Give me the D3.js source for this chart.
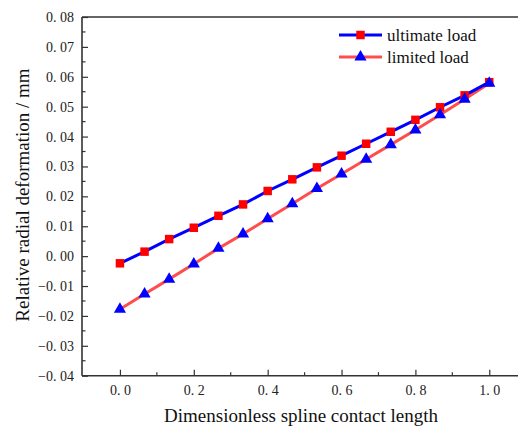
<!DOCTYPE html>
<html>
<head>
<meta charset="utf-8">
<script src="https://cdn.jsdelivr.net/npm/d3@7"></script>
<style>
  body { margin: 0; background: #fff; }
  svg { display: block; font-family: "Liberation Serif", "DejaVu Serif", serif; }
</style>
</head>
<body>
<svg id="chart" width="518" height="429"></svg>
<script>
// x positions of the points (dimensionless length)
var xs = [0, 0.0667, 0.1333, 0.2, 0.2667, 0.3333, 0.4, 0.4667, 0.5333, 0.6, 0.6667, 0.7333, 0.8, 0.8667, 0.9333, 1.0]

// series values
var ultimate = [-0.0024, 0.0015, 0.0057, 0.0095, 0.0135, 0.0173, 0.0218, 0.0257, 0.0297, 0.0336, 0.0376, 0.0416, 0.0456, 0.0498, 0.0538, 0.0582]
var limited = [-0.0178, -0.0127, -0.0077, -0.0026, 0.0026, 0.0074, 0.0125, 0.0175, 0.0226, 0.0275, 0.0324, 0.0373, 0.0422, 0.0473, 0.0525, 0.0578]

var xTicks = [0, 0.2, 0.4, 0.6, 0.8, 1.0]
var xMinor = [0.1, 0.3, 0.5, 0.7, 0.9]
var yTicks = [-0.04, -0.03, -0.02, -0.01, 0, 0.01, 0.02, 0.03, 0.04, 0.05, 0.06, 0.07, 0.08]
var yMinor = [-0.035, -0.025, -0.015, -0.005, 0.005, 0.015, 0.025, 0.035, 0.045, 0.055, 0.065, 0.075]

var seriesNames = ["ultimate load", "limited load"]

;(function() {
var svg = d3.select("#chart")
var W = 518
var mLeft = 82, mTop = 17, mBottom = 375.7

var x = d3.scaleLinear().domain([-0.1, 1.1]).range([83, 526.2])
var y = d3.scaleLinear().domain([-0.04, 0.08]).range([mBottom, mTop])

var axisColor = "#333"
var yFmt = d3.format(".2f"), xFmt = d3.format(".1f")
var spaced = function(s) { return s.replace(".", ". ") }

// y axis: major ticks inside, minor between
var yAxis = d3.axisLeft(y).tickValues(yTicks).tickSize(-6).tickPadding(8)
    .tickFormat(function(d) { return spaced(yFmt(d)) })
var gy = svg.append("g").attr("transform", "translate(" + mLeft + ",0)").call(yAxis)
gy.select(".domain").remove()
gy.selectAll(".tick line").attr("stroke", axisColor).attr("stroke-width", 1.2)
gy.selectAll(".tick text").attr("font-size", 14).attr("fill", "#222")
    .attr("font-family", "Liberation Serif, serif")

svg.append("g").selectAll("line").data(yMinor).enter().append("line")
    .attr("x1", mLeft).attr("x2", mLeft + 3.5)
    .attr("y1", function(d) { return y(d) }).attr("y2", function(d) { return y(d) })
    .attr("stroke", axisColor).attr("stroke-width", 1.2)

// x axis
var xAxis = d3.axisBottom(x).tickValues(xTicks).tickSize(-6).tickPadding(9)
    .tickFormat(function(d) { return spaced(xFmt(d)) })
var gx = svg.append("g").attr("transform", "translate(0," + mBottom + ")").call(xAxis)
gx.select(".domain").remove()
gx.selectAll(".tick line").attr("stroke", axisColor).attr("stroke-width", 1.2)
gx.selectAll(".tick text").attr("font-size", 14).attr("fill", "#222")
    .attr("font-family", "Liberation Serif, serif")

svg.append("g").selectAll("line").data(xMinor).enter().append("line")
    .attr("x1", function(d) { return x(d) }).attr("x2", function(d) { return x(d) })
    .attr("y1", mBottom).attr("y2", mBottom - 3.5)
    .attr("stroke", axisColor).attr("stroke-width", 1.2)

// frame lines: left, bottom, top
svg.append("line").attr("x1", mLeft).attr("x2", mLeft).attr("y1", mTop).attr("y2", mBottom)
    .attr("stroke", axisColor).attr("stroke-width", 1.6)
svg.append("line").attr("x1", mLeft).attr("x2", W).attr("y1", mBottom).attr("y2", mBottom)
    .attr("stroke", axisColor).attr("stroke-width", 1.6)
svg.append("line").attr("x1", mLeft).attr("x2", W).attr("y1", mTop).attr("y2", mTop)
    .attr("stroke", axisColor).attr("stroke-width", 1.6)

// axis titles
svg.append("text").attr("x", 301).attr("y", 422).attr("text-anchor", "middle")
    .attr("font-size", 19).attr("fill", "#111")
    .text("Dimensionless spline contact length")
svg.append("text").attr("transform", "translate(29,195) rotate(-90)").attr("text-anchor", "middle")
    .attr("font-size", 19).attr("fill", "#111")
    .text("Relative radial deformation / mm")

// lines
var line = d3.line().x(function(d) { return x(d[0]) }).y(function(d) { return y(d[1]) })
var ultData = xs.map(function(v, i) { return [v, ultimate[i]] })
var limData = xs.map(function(v, i) { return [v, limited[i]] })

svg.append("path").datum(limData).attr("d", line).attr("fill", "none")
    .attr("stroke", "#ff4d4d").attr("stroke-width", 3)
svg.append("path").datum(ultData).attr("d", line).attr("fill", "none")
    .attr("stroke", "#0000ff").attr("stroke-width", 3)

var sq = d3.symbol().type(d3.symbolSquare).size(72)
var tri = d3.symbol().type(d3.symbolTriangle).size(64)

svg.append("g").selectAll("path").data(ultData).enter().append("path")
    .attr("d", sq).attr("fill", "#ff0000")
    .attr("transform", function(d) { return "translate(" + x(d[0]) + "," + y(d[1]) + ")" })
svg.append("g").selectAll("path").data(limData).enter().append("path")
    .attr("d", tri).attr("fill", "#0000ff")
    .attr("transform", function(d) { return "translate(" + x(d[0]) + "," + y(d[1]) + ")" })

// legend
var leg = svg.append("g")
var legRows = [
    { name: seriesNames[0], line: "#0000ff", mark: sq, fill: "#ff0000", y: 35 },
    { name: seriesNames[1], line: "#ff4d4d", mark: tri, fill: "#0000ff", y: 57 }
]
legRows.forEach(function(r) {
    leg.append("line").attr("x1", 339).attr("x2", 382).attr("y1", r.y).attr("y2", r.y)
        .attr("stroke", r.line).attr("stroke-width", 3)
    leg.append("path").attr("d", r.mark).attr("fill", r.fill)
        .attr("transform", "translate(360.5," + r.y + ")")
    leg.append("text").attr("x", 387).attr("y", r.y + 5.5).attr("font-size", 17).attr("fill", "#111")
        .text(r.name)
})
})()
</script>
</body>
</html>
